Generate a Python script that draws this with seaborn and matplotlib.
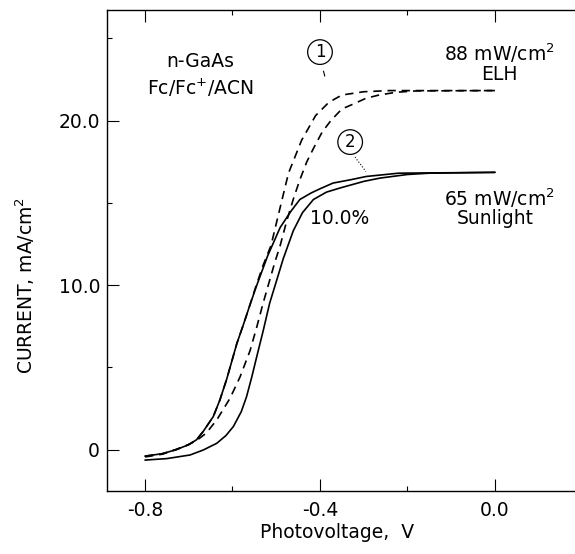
import matplotlib as mpl
import matplotlib.pyplot as plt
import seaborn as sns
import pandas as pd

# photocurrent vs photovoltage, n-GaAs in Fc/Fc+/ACN
# sunlight (65 mW/cm2) -- two solid scans
sun_a_v = [-0.80, -0.76, -0.728, -0.70, -0.682, -0.667, -0.644, -0.629, -0.613, -0.59,
           -0.575, -0.56, -0.545, -0.52, -0.491, -0.466, -0.446, -0.42, -0.40, -0.37,
           -0.33, -0.294, -0.22, -0.126, 0.0]
sun_a_j = [-0.40, -0.25, 0.0, 0.3, 0.6, 1.1, 2.0, 3.0, 4.3, 6.45,
           7.6, 8.8, 9.95, 11.75, 13.5, 14.5, 15.2, 15.6, 15.85, 16.2,
           16.4, 16.6, 16.8, 16.82, 16.85]

sun_b_v = [-0.80, -0.75, -0.697, -0.667, -0.636, -0.615, -0.598, -0.58, -0.568, -0.556,
           -0.545, -0.53, -0.515, -0.50, -0.484, -0.461, -0.44, -0.415, -0.385, -0.354,
           -0.30, -0.263, -0.20, -0.15, 0.0]
sun_b_j = [-0.64, -0.55, -0.33, -0.03, 0.38, 0.85, 1.4, 2.3, 3.2, 4.4,
           5.6, 7.2, 8.9, 10.2, 11.6, 13.3, 14.4, 15.2, 15.65, 15.9,
           16.3, 16.5, 16.72, 16.8, 16.85]

# ELH lamp (88 mW/cm2) -- two dashed scans
elh_a_v = [-0.80, -0.76, -0.728, -0.70, -0.682, -0.667, -0.644, -0.629, -0.613, -0.59,
           -0.575, -0.56, -0.548, -0.53, -0.512, -0.493, -0.472, -0.442, -0.41, -0.38,
           -0.35, -0.30, -0.24, 0.0]
elh_a_j = [-0.40, -0.25, 0.0, 0.3, 0.6, 1.1, 2.0, 3.0, 4.3, 6.45,
           7.6, 8.8, 9.8, 11.2, 12.4, 14.5, 16.8, 18.8, 20.3, 21.1,
           21.55, 21.75, 21.82, 21.82]

elh_b_v = [-0.80, -0.76, -0.735, -0.705, -0.682, -0.66, -0.636, -0.606, -0.583, -0.56,
           -0.545, -0.53, -0.516, -0.503, -0.491, -0.476, -0.46, -0.446, -0.43, -0.415,
           -0.395, -0.375, -0.35, -0.324, -0.295, -0.265, -0.225, -0.18, 0.0]
elh_b_j = [-0.45, -0.28, -0.05, 0.25, 0.55, 1.0, 1.8, 3.1, 4.4, 6.0,
           7.4, 8.9, 10.2, 11.4, 12.4, 13.9, 15.3, 16.4, 17.5, 18.3,
           19.3, 20.0, 20.7, 21.0, 21.35, 21.55, 21.72, 21.8, 21.82]

x_ticks = [-0.8, -0.4, 0.0]
x_tick_labels = ['-0.8', '-0.4', '0.0']
y_ticks = [0, 10, 20]
y_tick_labels = ['0', '10.0', '20.0']

sns.set_style("ticks")
mpl.rcParams['font.family'] = ['DejaVu Sans']
mpl.rcParams['axes.unicode_minus'] = False
mpl.rcParams['mathtext.default'] = 'regular'
for key in ['text.color', 'axes.labelcolor', 'xtick.color', 'ytick.color', 'axes.edgecolor']:
    mpl.rcParams[key] = 'black'

fig = plt.figure(figsize=(5.75, 5.54), dpi=100)
ax = fig.add_axes([0.186, 0.1137, 0.814, 0.8683])

dash = (0, (5, 3.5))
curves = [(sun_a_v, sun_a_j, '-'), (sun_b_v, sun_b_j, '-'),
          (elh_a_v, elh_a_j, dash), (elh_b_v, elh_b_j, dash)]
for v, j, ls in curves:
    df = pd.DataFrame({'V': v, 'J': j})
    sns.lineplot(data=df, x='V', y='J', sort=False, estimator=None,
                 color='black', linewidth=1.2, linestyle=ls, ax=ax)

ax.set_xlim(-0.887, 0.183)
ax.set_ylim(-2.52, 26.72)

ax.set_xticks(x_ticks)
ax.set_xticklabels(x_tick_labels)
ax.set_xticks([-0.6, -0.2], minor=True)
ax.set_yticks(y_ticks)
ax.set_yticklabels(y_tick_labels)
ax.set_yticks([5, 15, 25], minor=True)
ax.tick_params(which='both', direction='in', top=True, right=False,
               width=0.8, labelsize=13.5)
ax.tick_params(which='major', length=8.5)
ax.tick_params(which='minor', length=3.5)
ax.tick_params(axis='x', pad=7)
ax.tick_params(axis='y', pad=5)

for side in ['left', 'bottom', 'top']:
    ax.spines[side].set_linewidth(1.0)
ax.spines['right'].set_visible(False)

ax.set_xlabel('Photovoltage,  V', fontsize=13.5, va='center')
ax.xaxis.set_label_coords(0.491, -0.087)
ax.set_ylabel('CURRENT, mA/cm$^{2}$', fontsize=13.5, va='center')
ax.yaxis.set_label_coords(-0.175, 0.428)

fs = 13.5
ax.text(-0.674, 23.56, 'n-GaAs', ha='center', va='center', fontsize=fs)
ax.text(-0.674, 22.0, 'Fc/Fc$^{+}$/ACN', ha='center', va='center', fontsize=fs)
ax.text(0.011, 24.1, '88 mW/cm$^{2}$', ha='center', va='center', fontsize=fs)
ax.text(0.011, 22.77, 'ELH', ha='center', va='center', fontsize=fs)
ax.text(0.011, 15.29, '65 mW/cm$^{2}$', ha='center', va='center', fontsize=fs)
ax.text(0.0, 14.07, 'Sunlight', ha='center', va='center', fontsize=fs)
ax.text(-0.355, 14.07, '10.0%', ha='center', va='center', fontsize=fs)

circ = dict(boxstyle='circle,pad=0.2', fc='none', ec='black', lw=0.9)
ax.text(-0.400, 24.16, '1', ha='center', va='center', fontsize=12, bbox=circ)
ax.text(-0.331, 18.69, '2', ha='center', va='center', fontsize=12, bbox=circ)
ax.plot([-0.392, -0.389], [23.0, 22.7], color='black', lw=0.8)
ax.plot([-0.32, -0.295], [17.78, 16.9], color='black', lw=0.8, linestyle=':')

fig.savefig('out.png', dpi=100)
